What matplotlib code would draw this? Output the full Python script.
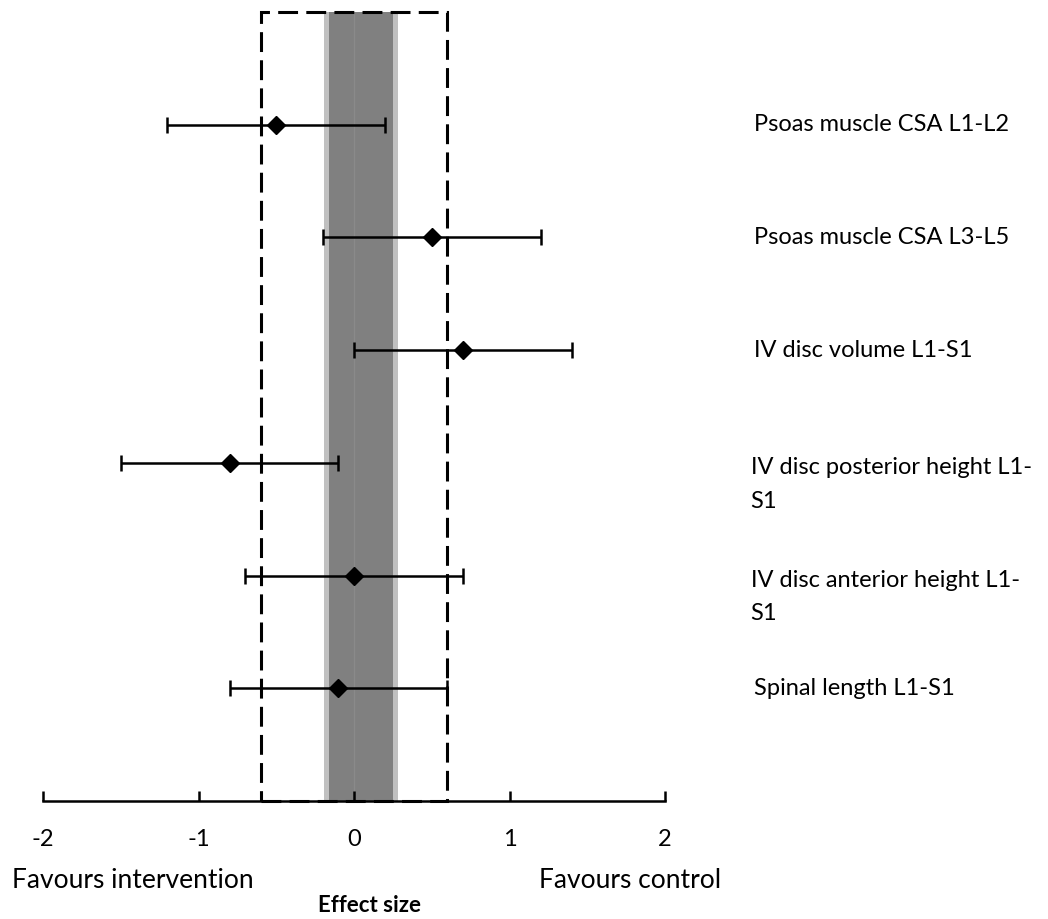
import numpy as np
import matplotlib.pyplot as plt
from matplotlib.patches import Rectangle

# -----------------------------------------------------------------------------
# Data
# -----------------------------------------------------------------------------
outcomes = [
    "Psoas muscle CSA L1-L2",
    "Psoas muscle CSA L3-L5",
    "IV disc volume L1-S1",
    "IV disc posterior height L1-\nS1",
    "IV disc anterior height L1-\nS1",
    "Spinal length L1-S1",
]
effect = [-0.5, 0.5, 0.7, -0.8, 0.0, -0.1]
ci_low = [-1.2, -0.2, 0.0, -1.5, -0.7, -0.8]
ci_high = [0.2, 1.2, 1.4, -0.1, 0.7, 0.6]

band_outer = (-0.19, 0.28)
band_inner = (-0.16, 0.25)
box_limits = (-0.6, 0.6)

xticks = [-2, -1, 0, 1, 2]

plt.rcParams["font.family"] = ["Lato", "DejaVu Sans"]

W, H = 1048, 919
fig = plt.figure(figsize=(W / 100, H / 100), dpi=100)
ax = fig.add_axes([43 / W, (H - 801) / H, 622 / W, (801 - 12) / H])

n = len(outcomes)
ypos = np.arange(n, 0, -1)

# shaded band + faint zero line
ax.axvspan(*band_outer, color="#c0c0c0", lw=0, zorder=0)
ax.axvspan(*band_inner, color="#808080", lw=0, zorder=0)
ax.axvline(0, color="#8a8a8a", lw=1, zorder=0.5)

# dashed box
ax.add_patch(Rectangle((box_limits[0], 0), box_limits[1] - box_limits[0], n + 1,
                       fill=False, ec="black", lw=2.2, ls=(0, (6.5, 2.7)),
                       zorder=1, clip_on=False))

# estimates with confidence intervals
eff = np.array(effect)
lo = eff - np.array(ci_low)
hi = np.array(ci_high) - eff
ax.errorbar(eff, ypos, xerr=[lo, hi], fmt="D", color="black", ms=9,
            elinewidth=1.8, capsize=6, capthick=1.8, zorder=3)

ax.set_xlim(-2, 2)
ax.set_ylim(0, n + 1)
for side in ["left", "right", "top"]:
    ax.spines[side].set_visible(False)
ax.spines["bottom"].set_linewidth(1.8)
ax.set_yticks([])
ax.set_xticks(xticks)
ax.set_xticklabels([str(t) for t in xticks])
ax.tick_params(axis="x", direction="in", length=7, width=1.8, pad=20,
               labelsize=17)

# outcome labels to the right (wrapped ones drawn line by line)
for y, lab in zip(ypos, outcomes):
    lines = lab.split("\n")
    if len(lines) > 1:
        for k, line in enumerate(lines):
            ax.text(2.55, y - 0.04 - 0.30 * k, line, ha="left", va="center",
                    fontsize=17, clip_on=False)
    else:
        ax.text(2.57, y, lab, ha="left", va="center", fontsize=17,
                clip_on=False)

fig.text(12 / W, 1 - 880 / H, "Favours intervention", ha="left", va="center",
         fontsize=19)
fig.text(630 / W, 1 - 880 / H, "Favours control", ha="center", va="center",
         fontsize=19)
fig.text(370 / W, 1 - 906 / H, "Effect size", ha="center", va="center",
         fontsize=16, fontweight="bold")

fig.savefig("out.png", dpi=100)
